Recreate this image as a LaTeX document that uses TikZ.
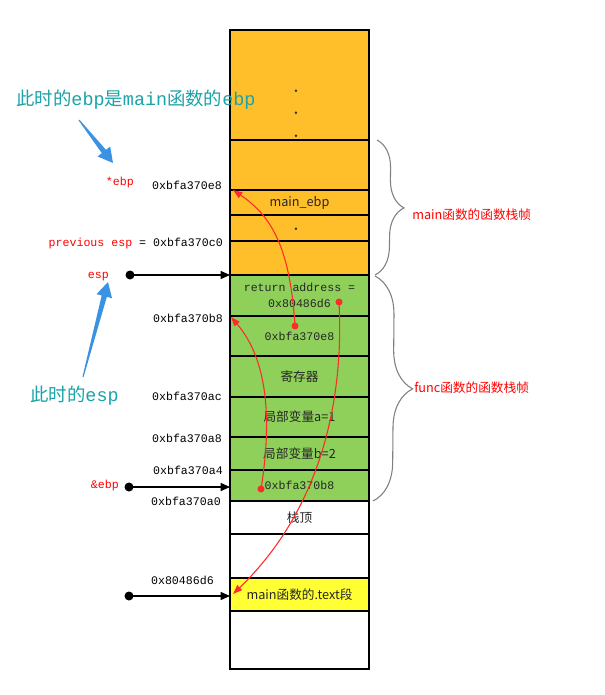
\documentclass[tikz,border=0pt]{standalone}
\usepackage{fontspec}
\setmonofont{Liberation Mono}
\newfontfamily\cjk{Noto Sans CJK SC}
\usetikzlibrary{arrows.meta,calc,decorations.pathreplacing}
\definecolor{StackOrange}{HTML}{FFBF2B}
\definecolor{StackGreen}{HTML}{8ED05A}
\definecolor{StackYellow}{HTML}{FFFF33}
\definecolor{NoteTeal}{HTML}{1AA3A8}
\definecolor{NoteBlue}{HTML}{3B92E3}
\definecolor{LinkRed}{HTML}{FF2A2A}
\definecolor{BraceGray}{HTML}{808080}
% tapered callout arrow: #1 tail, #2 tip
\newcommand{\fatarrow}[2]{%
  \path ($(#2)!11pt!(#1)$) coordinate (fab);
  \fill[NoteBlue] ($(#1)!0.4pt!90:(#2)$) -- ($(fab)!2pt!90:(#2)$) -- ($(fab)!6pt!90:(#2)$) -- (#2)
    -- ($(fab)!6pt!-90:(#2)$) -- ($(fab)!2pt!-90:(#2)$) -- ($(#1)!0.4pt!-90:(#2)$) -- cycle;}

\begin{document}
\begin{tikzpicture}[x=0.75pt,y=-0.75pt,
  cell/.style={draw=black,line width=0.9pt},
  addr/.style={inner sep=0pt,anchor=base east,font=\ttfamily\fontsize{8.7}{10}\selectfont},
  reg/.style={addr,text=red},
  celltext/.style={inner sep=0pt,text=black!85,font=\cjk\fontsize{9.5}{11}\selectfont},
  celladdr/.style={inner sep=0pt,align=center,text=black!85,font=\ttfamily\fontsize{8.7}{12}\selectfont},
  dotmark/.style={inner sep=0pt,text=black!80,font=\bfseries\fontsize{13}{13}\selectfont},
  note/.style={inner sep=0pt,anchor=base west,text=NoteTeal,font=\ttfamily\fontsize{13.8}{16}\selectfont},
  framelabel/.style={inner sep=0pt,anchor=west,text=red,font=\cjk\fontsize{9.5}{11}\selectfont},
  ptr/.style={-{Triangle[length=7pt,width=6pt]},line width=1pt},
  link/.style={-{Triangle[length=7pt,width=5pt]},LinkRed,line width=0.8pt},
  framebrace/.style={decorate,decoration={brace,amplitude=#1},draw=BraceGray,line width=0.8pt},
]
\fill[white] (0,0) rectangle (604,695);
\useasboundingbox (0,0) rectangle (604,695);

% stack cells, top to bottom
\foreach \t/\b/\fc [count=\i] in {30/140/StackOrange,140/190/StackOrange,190/215/StackOrange,
    215/241/StackOrange,241/275/StackOrange,275/316/StackGreen,316/356/StackGreen,
    356/397/StackGreen,397/437/StackGreen,437/470/StackGreen,470/501/StackGreen,
    501/534/white,534/578/white,578/611/StackYellow,611/669/white}{
  \draw[cell,fill=\fc] (230,\t) rectangle (369,\b);
  \coordinate (cell\i) at (299.5,{(\t+\b)/2});
}
\draw[line width=1.7pt] (230,275) -- (369,275);

\node[dotmark] (dotA) at (296,91) {.};
\node[dotmark] (dotB) at (296,113) {.};
\node[dotmark] (dotC) at (296,136) {.};
\node[celltext] (mainebp) at (cell3) {main\_ebp};
\node[dotmark] (dotD) at (296,229) {.};
\node[celladdr] (retaddr) at (cell6) {return address =\\0x80486d6};
\node[celladdr] (savedebp) at (cell7) {0xbfa370e8};
\node[celltext] (regs) at (cell8) {寄存器};
\node[celltext] (vara) at (cell9) {局部变量a=1};
\node[celltext] (varb) at (cell10) {局部变量b=2};
\node[celladdr] (savedesp) at (cell11) {0xbfa370b8};
\node[celltext] (stacktop) at (cell12) {栈顶};
\node[celltext] (textseg) at (cell14) {main函数的.text段};

% addresses and registers on the left
\node[note] (ebpnote) at (16,106) {{\cjk 此时的}ebp{\cjk 是}main{\cjk 函数的}ebp};
\node[reg] (ebpname) at (134,186) {*ebp};
\node[addr] (ebpaddr) at (222,190) {0xbfa370e8};
\node[addr] (prevesp) at (223,246) {\textcolor{red}{previous esp} = 0xbfa370c0};
\node[reg] (espname) at (109,278) {esp};
\node[addr] (addrb8) at (223,322) {0xbfa370b8};
\node[note] (espnote) at (30,401) {{\cjk 此时的}esp};
\node[addr] (addrac) at (222,400) {0xbfa370ac};
\node[addr] (addra8) at (222,442) {0xbfa370a8};
\node[addr] (addra4) at (223,474) {0xbfa370a4};
\node[reg] (ebpref) at (119,488) {\&ebp};
\node[addr] (addra0) at (221,505) {0xbfa370a0};
\node[addr] (addrret) at (214,584) {0x80486d6};

\coordinate (ebpnotetail) at (79,120);
\coordinate (ebpnotetip) at (113,163);
\fatarrow{ebpnotetail}{ebpnotetip}
\coordinate (espnotetail) at (83,377);
\coordinate (espnotetip) at (108,282);
\fatarrow{espnotetail}{espnotetip}

% pointers into the stack
\coordinate (espdot) at (130,275);
\coordinate (espslot) at (230,275);
\coordinate (ebpdot) at (129,487);
\coordinate (ebpslot) at (230,487);
\coordinate (retdot) at (129,596);
\coordinate (retslot) at (230,596);
\draw[ptr] (espdot) -- (espslot);
\draw[ptr] (ebpdot) -- (ebpslot);
\draw[ptr] (retdot) -- (retslot);
\fill (espdot) circle (4.5);
\fill (ebpdot) circle (4.5);
\fill (retdot) circle (4.5);

% saved values pointing back
\coordinate (linkA) at (295,326);
\coordinate (mainebpslot) at (233,190);
\coordinate (linkB) at (261,489);
\coordinate (savedslot) at (231,317);
\coordinate (linkC) at (339,302);
\coordinate (textslot) at (233,594);
\draw[link] (linkA) .. controls (290,245) and (270,215) .. (mainebpslot);
\draw[link] (linkB) .. controls (272,420) and (268,360) .. (savedslot);
\draw[link] (linkC) .. controls (345,420) and (310,520) .. (textslot);
\fill[LinkRed] (linkA) circle (3.5);
\fill[LinkRed] (linkB) circle (3.5);
\fill[LinkRed] (linkC) circle (3.5);

% frames
\coordinate (mainframetop) at (377,140);
\coordinate (mainframebot) at (375,275);
\coordinate (funcframetop) at (375,276);
\coordinate (funcframebot) at (373,501);
\draw[framebrace=21pt] (mainframetop) -- (mainframebot);
\draw[framebrace=29pt] (funcframetop) -- (funcframebot);
\node[framelabel] (mainframe) at (412,215) {main函数的函数栈帧};
\node[framelabel] (funcframe) at (414,388) {func函数的函数栈帧};
\end{tikzpicture}
\end{document}
